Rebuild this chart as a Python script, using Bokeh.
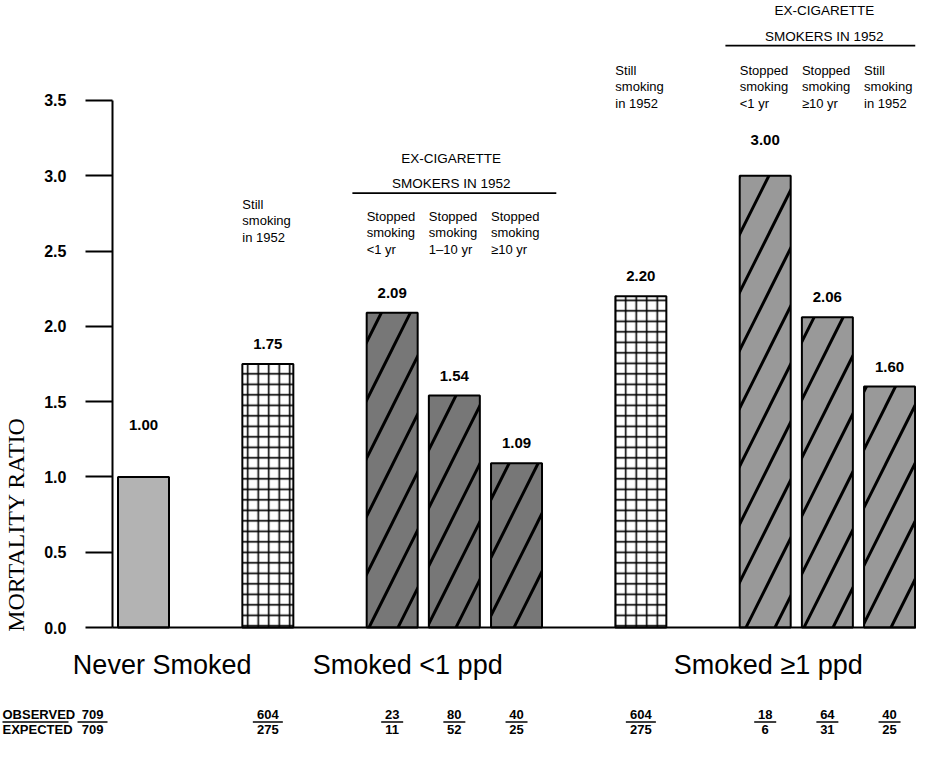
import numpy as np
from bokeh.plotting import figure
from bokeh.models import LinearAxis, FixedTicker, NumeralTickFormatter
from bokeh.core.properties import value
from bokeh.embed import file_html
from bokeh.resources import INLINE

# ---------------- data ----------------
group_names = ["Never Smoked", "Smoked <1 ppd", "Smoked \u22651 ppd"]
bar_values = [1.00, 1.75, 2.09, 1.54, 1.09, 2.20, 3.00, 2.06, 1.60]
bar_group = [0, 1, 1, 1, 1, 2, 2, 2, 2]
bar_kind = ["never", "still", "ex_lt1", "ex_lt1", "ex_lt1", "still", "ex_ge1", "ex_ge1", "ex_ge1"]
bar_notes = ["",
             "Still\nsmoking\nin 1952",
             "Stopped\nsmoking\n<1 yr",
             "Stopped\nsmoking\n1\u201310 yr",
             "Stopped\nsmoking\n\u226510 yr",
             "Still\nsmoking\nin 1952",
             "Stopped\nsmoking\n<1 yr",
             "Stopped\nsmoking\n\u226510 yr",
             "Still\nsmoking\nin 1952"]
observed = [709, 604, 23, 80, 40, 604, 18, 64, 40]
expected = [709, 275, 11, 52, 25, 275, 6, 31, 25]
y_ticks = [0.0, 0.5, 1.0, 1.5, 2.0, 2.5, 3.0, 3.5]
bracket_text = "EX-CIGARETTE\nSMOKERS IN 1952"
row_titles = ["OBSERVED", "EXPECTED"]
y_title = "MORTALITY RATIO"

# ---------------- layout ----------------
W, H = 916, 742
PX_SLOT = 62.17          # pixels per slot on x
PX_UNIT = 150.6          # pixels per 1.0 of mortality ratio
SLOT0_PX = 143.0         # canvas x of slot 0
ZERO_PX = 627.0          # canvas y of value 0
bar_slots = [0, 2, 4, 5, 6, 8, 10, 11, 12]
bar_w = 0.82
label_lift_px = [52, 20, 20, 20, 20, 20, 36, 20, 20]

def dx(px):
    return px / PX_SLOT

def dy(px):
    return px / PX_UNIT

x_range = (-SLOT0_PX / PX_SLOT, (W - SLOT0_PX) / PX_SLOT)
y_range = (-(H - ZERO_PX) / PX_UNIT, ZERO_PX / PX_UNIT)

p = figure(width=W, height=H, x_range=x_range, y_range=y_range,
           output_backend="svg", toolbar_location=None,
           x_axis_location=None, y_axis_location=None,
           min_border=0, min_border_left=0, min_border_right=0,
           min_border_top=0, min_border_bottom=0)
p.outline_line_color = None
p.background_fill_color = "white"
p.border_fill_color = "white"
for g in p.grid:
    g.visible = False

SANS = value("Liberation Sans")

# ---- bars ----
styles = {
    "never":  dict(fill_color="#b3b3b3", hatch_pattern=" ", hatch_scale=10, hatch_weight=1),
    "still":  dict(fill_color="white", hatch_pattern="+", hatch_scale=10.5, hatch_weight=1.6),
    "ex_lt1": dict(fill_color="#777777", hatch_pattern="/", hatch_scale=58, hatch_weight=3),
    "ex_ge1": dict(fill_color="#999999", hatch_pattern="/", hatch_scale=58, hatch_weight=3),
}
for kind, st in styles.items():
    idx = [i for i, k in enumerate(bar_kind) if k == kind]
    p.vbar(x=[bar_slots[i] for i in idx], top=[bar_values[i] for i in idx],
           bottom=0, width=bar_w, line_color="black", line_width=2,
           hatch_color="black", **st)

# baseline
p.segment(x0=[-0.5], y0=[0], x1=[x_range[1]], y1=[0], line_color="black", line_width=2)

# y axis
yaxis = LinearAxis(fixed_location=-0.5, bounds=(0, 3.5),
                   ticker=FixedTicker(ticks=y_ticks, minor_ticks=[]),
                   formatter=NumeralTickFormatter(format="0.0"),
                   major_tick_out=27, major_tick_in=0,
                   minor_tick_out=0, minor_tick_in=0,
                   major_label_standoff=19,
                   axis_line_width=2, axis_line_color="black",
                   major_tick_line_width=2, major_tick_line_color="black",
                   major_label_text_font="Liberation Sans",
                   major_label_text_font_style="bold",
                   major_label_text_font_size="16px",
                   major_label_text_color="black")
p.add_layout(yaxis, "left")

# y title
p.text(x=[dx(23 - 8) - SLOT0_PX / PX_SLOT], y=[dy(ZERO_PX - (532 - 8))], text=[y_title],
       angle=np.pi / 2, text_align="center", text_baseline="middle",
       text_font=value("Liberation Serif"), text_font_size="24px", text_color="black")

# value labels
p.text(x=bar_slots, y=[v + dy(l) for v, l in zip(bar_values, label_lift_px)],
       text=[f"{v:.2f}" for v in bar_values],
       text_align="center", text_baseline="middle",
       text_font=SANS, text_font_style="bold", text_font_size="15px", text_color="black")

# notes above bars (block centre heights, in ratio units)
note_center = {1: 2.70, 2: 2.62, 3: 2.62, 4: 2.62, 5: 3.59, 6: 3.59, 7: 3.59, 8: 3.59}
ni = [i for i, n in enumerate(bar_notes) if n]
p.text(x=[bar_slots[i] - bar_w / 2 for i in ni], y=[note_center[i] for i in ni],
       text=[bar_notes[i] for i in ni],
       text_align="left", text_baseline="middle", text_line_height=1.08,
       text_font=SANS, text_font_size="13px", text_color="black")

# brackets over ex-smoker bars
br_groups = [[2, 3, 4], [6, 7, 8]]
br_text_y = [3.03, 4.01]
for members, ty in zip(br_groups, br_text_y):
    left = bar_slots[members[0]] - bar_w / 2 - 0.23
    right = min(bar_slots[members[-1]] + bar_w / 2 + 0.23, x_range[1] - 0.02)
    cx = (bar_slots[members[0]] + bar_slots[members[-1]]) / 2 - 0.05
    p.text(x=[cx], y=[ty], text=[bracket_text], text_align="center", text_baseline="middle",
           text_line_height=1.7, text_font=SANS, text_font_size="13.5px", text_color="black")
    p.segment(x0=[left], y0=[ty - dy(22)], x1=[right], y1=[ty - dy(22)],
              line_color="black", line_width=1.8)

# group labels
grp_offsets = [0.3, 0.0, -0.2]
gx = []
for g in range(len(group_names)):
    s = [bar_slots[i] for i in range(len(bar_slots)) if bar_group[i] == g]
    gx.append(float(np.mean(s)) + grp_offsets[g])
p.text(x=gx, y=[-dy(37)] * 3, text=group_names, text_align="center", text_baseline="middle",
       text_font=SANS, text_font_size="27px", text_color="black")

# observed / expected rows
obs_y = -dy(87)
exp_y = -dy(102)
line_y = -dy(94.5)
frac_x = [bar_slots[0] - 0.82] + bar_slots[1:]
p.text(x=[x_range[0] + dx(2)] * 2, y=[obs_y, exp_y], text=row_titles,
       text_align="left", text_baseline="middle",
       text_font=SANS, text_font_style="bold", text_font_size="13px", text_color="black")
p.segment(x0=[x_range[0] + dx(2)], y0=[line_y], x1=[x_range[0] + dx(68)], y1=[line_y],
          line_color="black", line_width=1.5)
p.text(x=frac_x, y=[obs_y] * len(frac_x), text=[str(o) for o in observed],
       text_align="center", text_baseline="middle",
       text_font=SANS, text_font_style="bold", text_font_size="13px", text_color="black")
p.text(x=frac_x, y=[exp_y] * len(frac_x), text=[str(e) for e in expected],
       text_align="center", text_baseline="middle",
       text_font=SANS, text_font_style="bold", text_font_size="13px", text_color="black")
half = [dx(3 + 4 * len(str(max(o, e)))) for o, e in zip(observed, expected)]
p.segment(x0=[x - h for x, h in zip(frac_x, half)], y0=[line_y] * len(frac_x),
          x1=[x + h for x, h in zip(frac_x, half)], y1=[line_y] * len(frac_x),
          line_color="black", line_width=1.5)

open("out.html", "w").write(file_html(p, INLINE))
